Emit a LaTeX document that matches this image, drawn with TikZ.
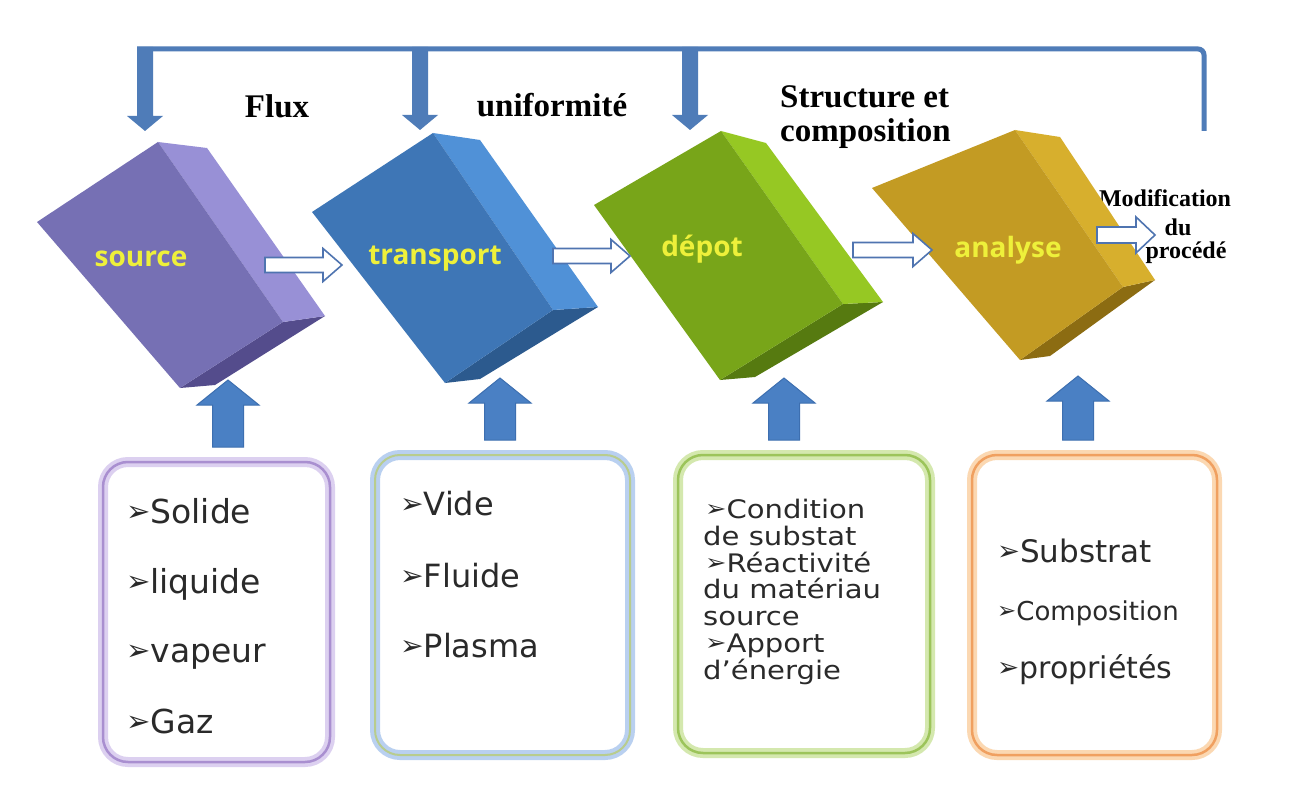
\documentclass[tikz,border=0pt]{standalone}
\usepackage{fontspec}
\usepackage{graphicx}
\usetikzlibrary{calc}
\newfontfamily\topfont{Liberation Serif}
\newfontfamily\labfont{Open Sans}
\newfontfamily\boxfont{DejaVu Sans}
\newfontfamily\boxfontw{DejaVu Sans}[FakeStretch=1.14]
\definecolor{topblue}{HTML}{4F7CB8}
\definecolor{upblue}{HTML}{4A80C4}
\definecolor{upblueD}{HTML}{3D6FB0}
\definecolor{wline}{HTML}{4F74B0}
\definecolor{labyel}{HTML}{EEF03A}
\definecolor{txtgray}{HTML}{2A2A2A}
% blocks
\definecolor{srcF}{HTML}{7670B4}\definecolor{srcS}{HTML}{9890D6}\definecolor{srcB}{HTML}{544C8C}
\definecolor{trF}{HTML}{3E76B6}\definecolor{trS}{HTML}{5091D7}\definecolor{trB}{HTML}{2C5A8E}
\definecolor{deF}{HTML}{78A519}\definecolor{deS}{HTML}{96C823}\definecolor{deB}{HTML}{567A10}
\definecolor{anF}{HTML}{C39B23}\definecolor{anS}{HTML}{D7AF2D}\definecolor{anB}{HTML}{8C6C12}
% box borders
\definecolor{b1g}{HTML}{DCD0F0}\definecolor{b1l}{HTML}{A98FD0}
\definecolor{b2g}{HTML}{B9D0F0}\definecolor{b2l}{HTML}{B8CC8E}
\definecolor{b3g}{HTML}{D4E8AE}\definecolor{b3l}{HTML}{9CC45A}
\definecolor{b4g}{HTML}{FBD8B2}\definecolor{b4l}{HTML}{F0A060}
\newcommand\bul{\raisebox{0.06em}{\scalebox{0.88}{➢}}}
\newcommand\harrow[5]{\path[#1] ($(#2)+(0,-#4)$) -- ($(#3)+(-19,-#4)$) -- ($(#3)+(-19,-#5)$) -- (#3) -- ($(#3)+(-19,#5)$) -- ($(#3)+(-19,#4)$) -- ($(#2)+(0,#4)$) -- cycle;}
\newcommand\varrow[6]{\path[#1] ($(#2)+(-#4,0)$) -- ($(#3)+(-#4,#6)$) -- ($(#3)+(-#5,#6)$) -- (#3) -- ($(#3)+(#5,#6)$) -- ($(#3)+(#4,#6)$) -- ($(#2)+(#4,0)$) -- cycle;}
\tikzset{
  topline/.style={draw=topblue, line width=5pt, rounded corners=6pt},
  downarrow/.style={fill=topblue},
  uparrow/.style={fill=upblue, draw=upblueD, line width=1pt},
  warrow/.style={fill=white, draw=wline, line width=1.6pt, line join=miter},
  toplabel/.style={inner sep=0, text=black, font={\topfont\bfseries\fontsize{33}{36}\selectfont}},
  modlabel/.style={inner sep=0, text=black, font={\topfont\bfseries\fontsize{24}{26}\selectfont}},
  blocklab/.style={inner sep=0, anchor=base, text=labyel, font={\labfont\bfseries\fontsize{28}{30}\selectfont}},
  bbox/.style={rounded corners=25pt, minimum width=#1, inner sep=0, line width=10pt},
  btxt/.style={anchor=base west, inner sep=0, text=txtgray, font={\boxfont\fontsize{#1}{#1}\selectfont}},
  btxtw/.style={anchor=base west, inner sep=0, text=txtgray, font={\boxfontw\fontsize{#1}{#1}\selectfont}},
}
\begin{document}
\begin{tikzpicture}[x=1pt,y=-1pt]
\path[use as bounding box, fill=white] (0,0) rectangle (1295,799);

% ---- top texts
\node[toplabel, anchor=base] (flux) at (277,118) {Flux};
\node[toplabel, anchor=base] (unif) at (552,117) {uniformité};
\node[toplabel, anchor=base west] (struc) at (780,108) {Structure et};
\node[toplabel, anchor=base west] (compo) at (780,142) {composition};
\node[modlabel, anchor=base] (modif) at (1165,207) {Modification};
\node[modlabel, anchor=base] (modu) at (1178,236) {du};
\node[modlabel, anchor=base] (modp) at (1186,259) {procédé};

% ---- feedback line and down arrows
\coordinate (fbR) at (1204,131);
\coordinate (fbL) at (137,49);
\draw[topline] (fbR) |- (fbL);
\coordinate (d1s) at (145,47); \coordinate (d1e) at (145,131);
\coordinate (d2s) at (420,47); \coordinate (d2e) at (420,130);
\coordinate (d3s) at (690,47); \coordinate (d3e) at (690,130);
\varrow{downarrow}{d1s}{d1e}{8}{18}{-15}
\varrow{downarrow}{d2s}{d2e}{8}{18}{-15}
\varrow{downarrow}{d3s}{d3e}{8}{18}{-15}

% ---- blocks
% source
\fill[srcB] (180,388) -- (283,322) -- (325,316) -- (215,385) -- cycle;
\fill[srcS] (158,142) -- (207,148) -- (325,316) -- (283,322) -- cycle;
\fill[srcF] (37,222) -- (158,142) -- (283,322) -- (180,388) -- cycle;
% transport
\fill[trB] (445,383) -- (553,310) -- (598,307) -- (480,379) -- cycle;
\fill[trS] (433,133) -- (480,140) -- (598,307) -- (553,310) -- cycle;
\fill[trF] (312,212) -- (433,133) -- (553,310) -- (445,383) -- cycle;
% depot
\fill[deB] (720,380) -- (843,304) -- (883,302) -- (755,377) -- cycle;
\fill[deS] (721,131) -- (766,143) -- (883,302) -- (843,304) -- cycle;
\fill[deF] (594,205) -- (721,131) -- (843,304) -- (720,380) -- cycle;
% analyse
\fill[anB] (1020,360) -- (1123,287) -- (1155,280) -- (1050,356) -- cycle;
\fill[anS] (1015,130) -- (1060,137) -- (1155,280) -- (1123,287) -- cycle;
\fill[anF] (872,188) -- (1015,130) -- (1123,287) -- (1020,360) -- cycle;

\node[blocklab] (lsrc) at (141,267) {source};
\node[blocklab] (ltr) at (435,265) {transport};
\node[blocklab] (lde) at (702,257) {dépot};
\node[blocklab] (lan) at (1008,258) {analyse};

% ---- white process arrows
\coordinate (h1s) at (265,265); \coordinate (h1e) at (342,265);
\coordinate (h2s) at (553,256); \coordinate (h2e) at (630,256);
\coordinate (h3s) at (853,250); \coordinate (h3e) at (932,250);
\coordinate (h4s) at (1097,235); \coordinate (h4e) at (1155,235);
\harrow{warrow}{h1s}{h1e}{7.5}{16.5}
\harrow{warrow}{h2s}{h2e}{7.5}{16.5}
\harrow{warrow}{h3s}{h3e}{7.5}{16.5}
\harrow{warrow}{h4s}{h4e}{8}{18}

% ---- bottom boxes
\node[bbox=227pt, minimum height=300pt, draw=b1g, fill=white, postaction={draw=b1l, line width=2.5pt}] (b1) at (216.5,612) {};
\node[bbox=255pt, minimum height=300pt, draw=b2g, fill=white, postaction={draw=b2l, line width=2pt}] (b2) at (502.5,605) {};
\node[bbox=252pt, minimum height=298pt, draw=b3g, fill=white, postaction={draw=b3l, line width=2.5pt}] (b3) at (804,604) {};
\node[bbox=245pt, minimum height=300pt, draw=b4g, fill=white, postaction={draw=b4l, line width=2.5pt}] (b4) at (1094.5,605) {};

% ---- up arrows
\coordinate (u1s) at (228,447); \coordinate (u1e) at (228,380);
\coordinate (u2s) at (500,440); \coordinate (u2e) at (500,378);
\coordinate (u3s) at (784,440); \coordinate (u3e) at (784,378);
\coordinate (u4s) at (1078,440); \coordinate (u4e) at (1078,376);
\varrow{uparrow}{u1s}{u1e}{15.5}{31}{25}
\varrow{uparrow}{u2s}{u2e}{15.5}{31}{25}
\varrow{uparrow}{u3s}{u3e}{15.5}{31}{25}
\varrow{uparrow}{u4s}{u4e}{15.5}{31}{25}

% ---- box texts
\node[btxt=33] (t11) at (126,523) {\bul Solide};
\node[btxt=33] (t12) at (126,593) {\bul liquide};
\node[btxt=33] (t13) at (126,662) {\bul vapeur};
\node[btxt=33] (t14) at (126,733) {\bul Gaz};

\node[btxt=32] (t21) at (400,515) {\bul Vide};
\node[btxt=32] (t22) at (400,587) {\bul Fluide};
\node[btxt=32] (t23) at (400,657) {\bul Plasma};

\node[btxtw=25.5] (t31) at (705,518) {\bul Condition};
\node[btxtw=25.5] (t32) at (703,545) {de substat};
\node[btxtw=25.5] (t33) at (705,572) {\bul Réactivité};
\node[btxtw=25.5] (t34) at (703,598.5) {du matériau};
\node[btxtw=25.5] (t35) at (703,625) {source};
\node[btxtw=25.5] (t36) at (705,652) {\bul Apport};
\node[btxtw=25.5] (t37) at (703,679) {d’énergie};

\node[btxt=31] (t41) at (997,562) {\bul Substrat};
\node[btxt=26] (t42) at (997,620) {\bul Composition};
\node[btxt=30] (t43) at (997,678) {\bul propriétés};
\end{tikzpicture}
\end{document}
